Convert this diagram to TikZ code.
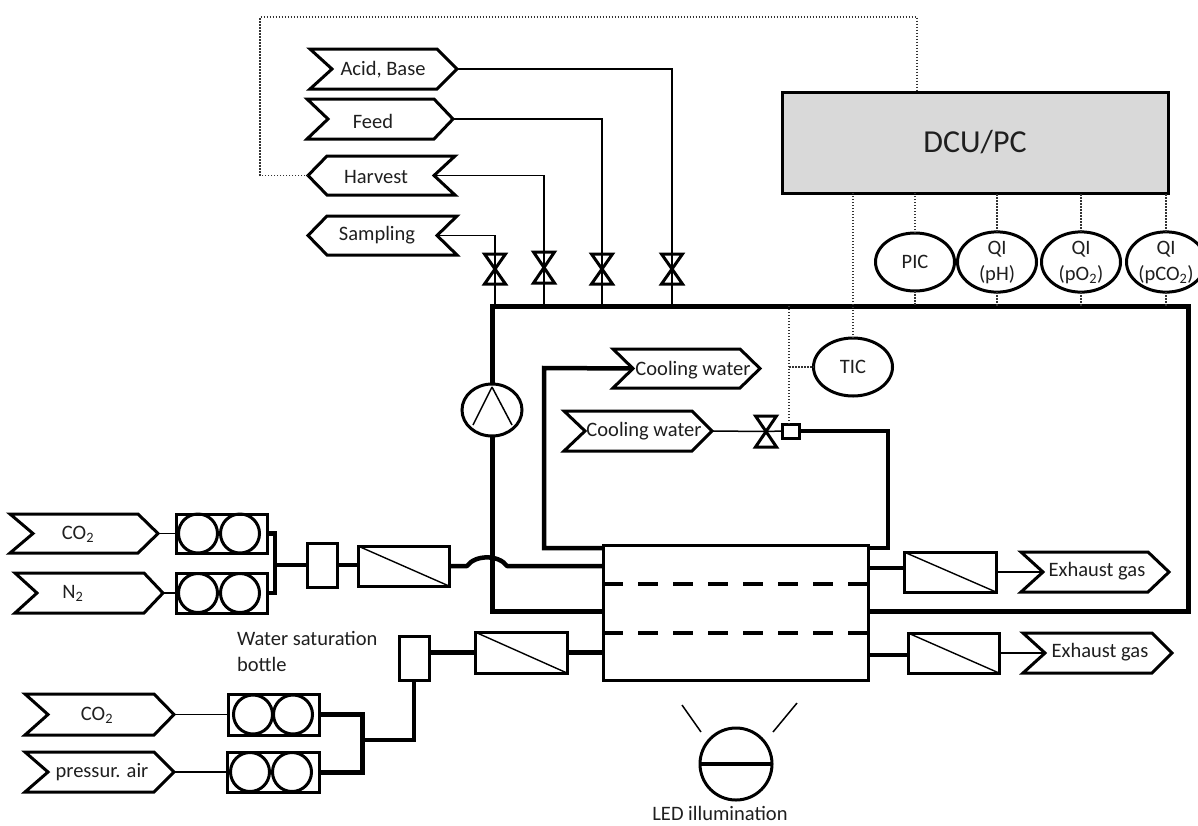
\documentclass[tikz,border=0pt]{standalone}
\usepackage{fontspec}
\setmainfont{Carlito}
\usetikzlibrary{shapes.geometric}
\tikzset{
  base/.style={inner sep=0pt,outer sep=0pt},
  lblfont/.style={base,font=\fontsize{20.5}{26}\selectfont,text=black!88,align=center},
  lbl/.style={lblfont,yshift=-1.5pt},
  tagline/.style={line width=3pt,miter limit=10},
  thinline/.style={line width=1.5pt},
  pipe/.style={line width=4.5pt,line join=miter},
  looppipe/.style={line width=5pt,line join=miter},
  signal/.style={line width=1.4pt,dash pattern=on 1.5pt off 1.5pt,black!80},
  boxnode/.style={base,draw,rectangle,line width=3pt},
  filternode/.style={boxnode},
  roundnode/.style={lblfont,draw,ellipse,line width=3pt,minimum width=79pt,minimum height=58pt},
  cyl/.style={base,draw,circle,line width=3pt,minimum size=39pt},
  valveline/.style={line width=3pt,line join=miter},
}
% right-pointing tag: name, left, notch, shoulder, tip, top, bottom, text x, text y
\newcommand{\TagR}[9]{%
  \coordinate (#1-l) at (#3,{(#6+#7)/2});
  \coordinate (#1-r) at (#5,{(#6+#7)/2});
  \draw[tagline] (#2,#6) -- (#4,#6) -- (#1-r) -- (#4,#7) -- (#2,#7) -- (#1-l) -- cycle;
  \node[lbl] (#1) at (#8,#9) {\tagtext};
}
% left-pointing tag: name, tip, shoulder, notch, right, top, bottom, text x, text y
\newcommand{\TagL}[9]{%
  \coordinate (#1-l) at (#2,{(#6+#7)/2});
  \coordinate (#1-r) at (#4,{(#6+#7)/2});
  \draw[tagline] (#5,#6) -- (#3,#6) -- (#1-l) -- (#3,#7) -- (#5,#7) -- (#1-r) -- cycle;
  \node[lbl] (#1) at (#8,#9) {\tagtext};
}
% valve: name, x, top, bottom
\newcommand{\BowTie}[4]{%
  \coordinate (#1) at (#2,{(#3+#4)/2});
  \draw[valveline] ({#2-10.5},#3) -- ({#2+10.5},#3) -- ({#2-10.5},#4) -- ({#2+10.5},#4) -- cycle;
}
% filter: name, left, top, right, bottom
\newcommand{\Filter}[5]{%
  \node[filternode,minimum width={(#4-#2)*1pt},minimum height={(#5-#3)*1pt}] (#1) at ({(#2+#4)/2},{(#3+#5)/2}) {};
  \draw[line width=1.4pt] (#1.north west) -- (#1.south east);
}
% cylinder pair: name, left, top, right, bottom, c1, c2
\newcommand{\CylPair}[7]{%
  \node[boxnode,minimum width={(#4-#2)*1pt},minimum height={(#5-#3)*1pt}] (#1) at ({(#2+#4)/2},{(#3+#5)/2}) {};
  \node[cyl] (#1-a) at (#6,{(#3+#5)/2}) {};
  \node[cyl] (#1-b) at (#7,{(#3+#5)/2}) {};
}
\newcommand{\dn}[1]{\raisebox{-2pt}{#1}}
\begin{document}
\begin{tikzpicture}[x=1pt,y=-1pt]
\clip (0,0) rectangle (1198,825);
\fill[white] (0,0) rectangle (1198,825);

% loop corners
\coordinate (loopTL) at (492,306);
\coordinate (loopTR) at (1188,306);
\coordinate (loopBR) at (1188,611);

% Top tags
\def\tagtext{Acid, Base}\TagR{acid}{310}{332}{437}{457}{49}{89}{383}{68}
\def\tagtext{Feed}\TagR{feed}{307}{328}{434}{453}{99}{139}{373}{120}
\def\tagtext{Harvest}\TagL{harvest}{308}{327}{434}{455}{156}{195}{376}{175}
\def\tagtext{Sampling}\TagL{sampling}{308}{327}{437}{457}{216}{255}{377}{234}

% Valves
\BowTie{v1}{495}{254}{284}
\BowTie{v2}{544}{252}{283}
\BowTie{v3}{602}{254}{284}
\BowTie{v4}{672}{254}{284}
\draw[thinline] (acid-r) -| (v4) -- (v4|-loopTL);
\draw[thinline] (feed-r) -| (v3) -- (v3|-loopTL);
\draw[thinline] (harvest-r) -| (v2) -- (v2|-loopTL);
\draw[thinline] (sampling-r) -| (v1) -- (v1|-loopTL);

% DCU
\node[boxnode,fill=black!15,minimum width=386pt,minimum height=101pt,font=\fontsize{32}{36}\selectfont,text=black!88] (dcu) at (975,142.5) {\raisebox{-2pt}{DCU/PC}};

% Reactor
\node[base,draw,rectangle,line width=3pt,minimum width=265pt,minimum height=135pt] (reactor) at (735.5,612.5) {};
\coordinate (d1l) at (reactor.west|-0,584);
\coordinate (d1r) at (reactor.east|-0,584);
\coordinate (d2l) at (reactor.west|-0,633);
\coordinate (d2r) at (reactor.east|-0,633);
\draw[line width=4pt,dash pattern=on 20pt off 15pt] (d1l) -- (d1r);
\draw[line width=4pt,dash pattern=on 20pt off 15pt] (d2l) -- (d2r);

% Pump
\node[base,draw,ellipse,line width=3pt,minimum width=60pt,minimum height=52pt] (pump) at (492,410) {};
\draw[line width=1.5pt] (492,387) -- (473,425);
\draw[line width=1.5pt] (492,387) -- (512,425);

% Main loop
\draw[looppipe] (pump.north) -- (loopTL) -- (loopTR) -- (loopBR) -- (reactor.east|-loopBR);
\draw[looppipe] (pump.south) |- (reactor.west|-loopBR);

% Sensors
\node[roundnode] (tic) at (853,367) {TIC};
\node[roundnode] (pic) at (915,262) {PIC};
\node[roundnode] (qi1) at (997,262) {\dn{QI}\\\dn{(pH)}};
\node[roundnode] (qi2) at (1081,262) {\dn{QI}\\\dn{(pO\textsubscript{2})}};
\node[roundnode] (qi3) at (1166,262) {\dn{QI}\\\dn{(pCO\textsubscript{2})}};
\foreach \n in {pic,qi1,qi2,qi3}{
  \draw[signal] (\n.north) -- (\n.north|-dcu.south);
  \draw[signal] (\n.south) -- (\n.south|-loopTL);
}
\draw[signal] (tic.north) -- (tic.north|-dcu.south);

% Cooling water
\def\tagtext{Cooling water}\TagR{cool1}{613}{633}{740}{760}{349}{388}{693}{369}
\def\tagtext{Cooling water}\TagR{cool2}{564}{585}{692}{712}{411}{451}{644}{430}
\BowTie{v5}{766}{416}{447}
\node[base,draw,rectangle,line width=3pt,minimum width=17pt,minimum height=14pt] (tc) at (791,431) {};
\draw[thinline] (cool2-r) -- (v5) -- (tc.west);
\draw[pipe] (tc.east) -| (888,548) -- (reactor.east|-0,548);
\draw[pipe] (reactor.west|-0,548) -| (544,368) -- (cool1-l);
\draw[signal] (tc.north-|789,0) -- (789,306);
\coordinate (ticbr) at (789,367);
\draw[signal] (ticbr) -- (tic.west);

% Dotted harvest loop
\draw[signal] (harvest-l) -- (260,175.5) -- (260,17) -- (917,17) -- (dcu.north-|917,0);

% Upper gas line
\def\tagtext{CO\textsubscript{2}}\TagR{co2a}{10}{33}{138}{158}{514}{553}{78}{533}
\def\tagtext{N\textsubscript{2}}\TagR{n2}{15}{37}{144}{163}{573}{613}{73}{592}
\CylPair{cp1}{176}{514}{267}{553}{198}{240}
\CylPair{cp2}{176}{573}{267}{613}{198}{240}
\draw[thinline] (co2a-r) -- (cp1.west);
\draw[thinline] (n2-r) -- (cp2.west);
\coordinate (busa) at (275,565);
\draw[line width=4.5pt] (cp1.east) -| (busa) |- (cp2.east);
\node[boxnode,minimum width=30pt,minimum height=44pt] (mix) at (322,565) {};
\draw[pipe] (busa) -- (mix.west);
\Filter{fa}{358}{546}{449}{586}
\draw[pipe] (mix.east) -- (mix.east-|fa.west);
\coordinate (bumpl) at (467,566);
\coordinate (bumpr) at (507,566);
\draw[pipe,line join=round] (fa.east) -- (bumpl) .. controls (475,554.5) and (499,554.5) .. (bumpr) -- (reactor.west|-bumpr);

% Lower gas line
\def\tagtext{CO\textsubscript{2}}\TagR{co2b}{25}{48}{154}{174}{694}{735}{97}{714}
\def\tagtext{pressur. air}\TagR{air}{25}{48}{154}{174}{752}{792}{102}{771}
\CylPair{cp3}{228}{694}{319}{735}{253}{293}
\CylPair{cp4}{227}{752}{319}{792}{250}{292}
\draw[thinline] (co2b-r) -- (cp3.west);
\draw[thinline] (air-r) -- (cp4.west);
\coordinate (busb) at (362,740);
\draw[line width=5pt] (cp3.east) -| (busb) |- (cp4.east);
\node[boxnode,minimum width=30pt,minimum height=44pt] (bottle) at (414,658) {};
\draw[pipe] (busb) -| (bottle.south);
\Filter{fb}{475}{632}{567}{673}
\draw[pipe] (bottle.east|-fb.west) -- (fb.west);
\draw[pipe] (fb.east) -- (reactor.west|-fb.east);
\node[lblfont,anchor=north west,align=left] (wsb) at (237,631) {Water saturation\\bottle};

% Exhaust
\Filter{fc}{904}{552}{996}{592}
\Filter{fd}{908}{633}{999}{673}
\def\tagtext{Exhaust gas}\TagR{ex1}{1021}{1043}{1148}{1169}{552}{592}{1097}{570}
\def\tagtext{Exhaust gas}\TagR{ex2}{1023}{1045}{1152}{1172}{633}{673}{1100}{651}
\draw[pipe] (reactor.east|-0,568) -- (fc.west|-0,568);
\draw[pipe] (reactor.east|-0,655) -- (fd.west|-0,655);
\draw[thinline] (fc.east) -- (ex1-l);
\draw[thinline] (fd.east) -- (ex2-l);

% LED
\node[base,draw,circle,line width=3pt,minimum size=72pt] (led) at (736,764) {};
\draw[line width=4.5pt] (led.west) -- (led.east);
\draw[line width=1.5pt] (682,705) -- (701,732);
\draw[line width=1.5pt] (797,703) -- (773,732);
\node[lblfont] (ledt) at (720,813.5) {LED illumination};
\end{tikzpicture}
\end{document}
